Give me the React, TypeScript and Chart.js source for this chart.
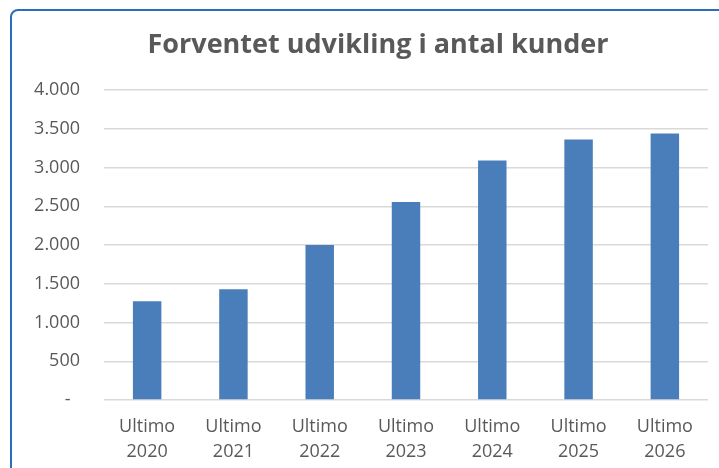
import React, { useEffect, useRef } from "react";
import { Chart, registerables } from "chart.js";

Chart.register(...registerables);

const titleText = "Forventet udvikling i antal kunder";
const categories: string[][] = [
  ["Ultimo", "2020"],
  ["Ultimo", "2021"],
  ["Ultimo", "2022"],
  ["Ultimo", "2023"],
  ["Ultimo", "2024"],
  ["Ultimo", "2025"],
  ["Ultimo", "2026"],
];
const customers: number[] = [1275, 1430, 2000, 2555, 3090, 3360, 3440];
const yMax = 4000;
const yStep = 500;

function formatTick(v: number): string {
  if (v === 0) return "-  ";
  return String(v).replace(/\B(?=(\d{3})+(?!\d))/g, ".");
}

const FONT = "'Open Sans', 'Noto Sans', sans-serif";

const titlePlugin = {
  id: "frameTitle",
  afterDraw(chart: any) {
    const ctx = chart.ctx;
    ctx.save();
    ctx.font = `bold 27px ${FONT}`;
    ctx.fillStyle = "#595959";
    ctx.textAlign = "center";
    ctx.textBaseline = "middle";
    const x = (chart.chartArea.left + chart.chartArea.right) / 2 - 28;
    ctx.fillText(titleText, x, 45);
    ctx.restore();
  },
};

export default function App() {
  const ref = useRef<HTMLCanvasElement | null>(null);
  useEffect(() => {
    if (!ref.current) return;
    const chart = new Chart(ref.current, {
      type: "bar",
      data: {
        labels: categories,
        datasets: [
          {
            data: customers,
            backgroundColor: "#4a7ebb",
            barPercentage: 0.33,
            categoryPercentage: 1,
          },
        ],
      },
      plugins: [titlePlugin],
      options: {
        responsive: false,
        animation: false,
        layout: { padding: { left: 0, right: 11, top: 90, bottom: 6 } },
        plugins: {
          legend: { display: false },
          tooltip: { enabled: false },
          title: { display: false },
        },
        scales: {
          x: {
            afterFit: (s: any) => {
              s.height = 62;
            },
            grid: { display: false },
            border: { display: false },
            ticks: {
              color: "#595959",
              font: { family: FONT, size: 18, lineHeight: 1.4 },
              padding: 6,
              maxRotation: 0,
              autoSkip: false,
            },
          },
          y: {
            min: 0,
            max: yMax,
            afterFit: (s: any) => {
              s.width = 104;
            },
            border: { display: false },
            grid: { color: "#d9d9d9", lineWidth: 1.5, drawTicks: false },
            ticks: {
              stepSize: yStep,
              color: "#595959",
              font: { family: FONT, size: 18 },
              padding: 24,
              callback: (v: any) => formatTick(Number(v)),
            },
          },
        },
      },
    });
    return () => chart.destroy();
  }, []);
  return (
    <div
      style={{
        position: "fixed",
        left: 0,
        top: 0,
        width: 719,
        height: 468,
        background: "#ffffff",
        overflow: "hidden",
      }}
    >
      <div
        style={{
          position: "absolute",
          left: 10,
          top: 9,
          width: 800,
          height: 600,
          border: "2px solid #2a6ebb",
          borderTopLeftRadius: 8,
        }}
      />
      <canvas
        ref={ref}
        width={719}
        height={468}
        style={{ position: "absolute", left: 0, top: 0, width: 719, height: 468 }}
      />
    </div>
  );
}
